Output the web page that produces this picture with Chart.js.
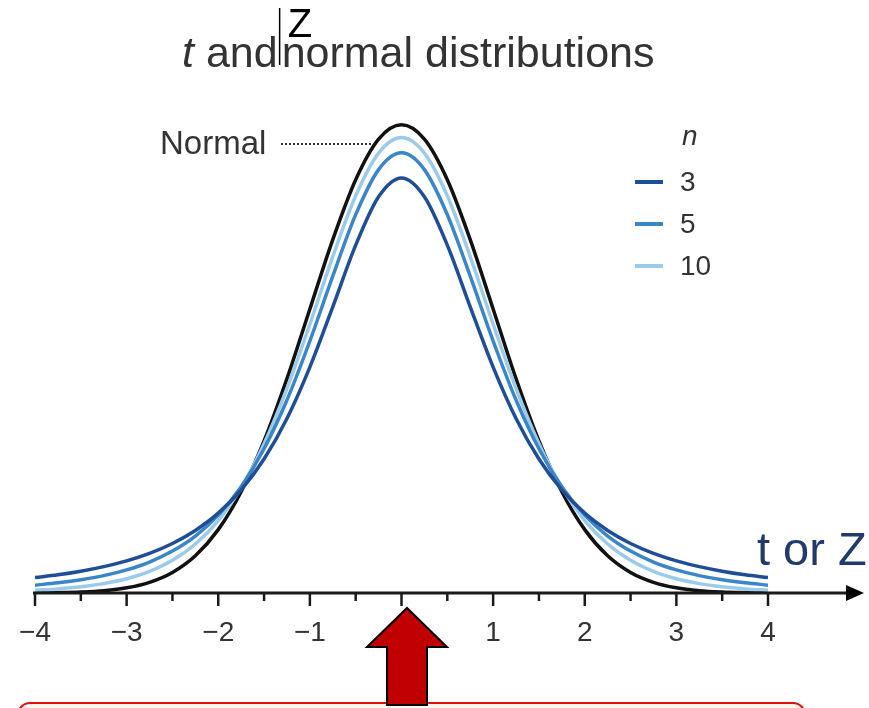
<!DOCTYPE html>
<html>
<head>
<meta charset="utf-8">
<script src="https://cdn.jsdelivr.net/npm/chart.js@4/dist/chart.umd.min.js"></script>
<style>
  html, body { margin: 0; padding: 0; background: #fff; }
  #wrap { width: 869px; height: 708px; overflow: hidden; }
</style>
</head>
<body>
<div id="wrap"><canvas id="distChart" width="869" height="708"></canvas></div>
<script>
// x positions (t or Z)
const xValues = [-4, -3.75, -3.5, -3.25, -3, -2.75, -2.5, -2.25, -2, -1.75, -1.5, -1.25, -1, -0.75, -0.5, -0.25,
  0, 0.25, 0.5, 0.75, 1, 1.25, 1.5, 1.75, 2, 2.25, 2.5, 2.75, 3, 3.25, 3.5, 3.75, 4];

const normalCurve = [0.0001, 0.0004, 0.0009, 0.0020, 0.0044, 0.0091, 0.0175, 0.0317, 0.0540, 0.0863, 0.1295, 0.1826, 0.2420, 0.3011, 0.3521, 0.3867,
  0.3989, 0.3867, 0.3521, 0.3011, 0.2420, 0.1826, 0.1295, 0.0863, 0.0540, 0.0317, 0.0175, 0.0091, 0.0044, 0.0020, 0.0009, 0.0004, 0.0001];

const tN3 = [0.0131, 0.0155, 0.0186, 0.0225, 0.0274, 0.0338, 0.0422, 0.0533, 0.0680, 0.0878, 0.1141, 0.1487, 0.1925, 0.2438, 0.2963, 0.3376,
  0.3536, 0.3376, 0.2963, 0.2438, 0.1925, 0.1487, 0.1141, 0.0878, 0.0680, 0.0533, 0.0422, 0.0338, 0.0274, 0.0225, 0.0186, 0.0155, 0.0131];

const tN5 = [0.0067, 0.0087, 0.0113, 0.0148, 0.0197, 0.0264, 0.0357, 0.0485, 0.0663, 0.0905, 0.1229, 0.1644, 0.2147, 0.2699, 0.3223, 0.3607,
  0.3750, 0.3607, 0.3223, 0.2699, 0.2147, 0.1644, 0.1229, 0.0905, 0.0663, 0.0485, 0.0357, 0.0264, 0.0197, 0.0148, 0.0113, 0.0087, 0.0067];

const tN10 = [0.0023, 0.0035, 0.0053, 0.0080, 0.0121, 0.0184, 0.0278, 0.0417, 0.0617, 0.0897, 0.1271, 0.1743, 0.2291, 0.2866, 0.3384, 0.3748,
  0.3880, 0.3748, 0.3384, 0.2866, 0.2291, 0.1743, 0.1271, 0.0897, 0.0617, 0.0417, 0.0278, 0.0184, 0.0121, 0.0080, 0.0053, 0.0035, 0.0023];

const sampleSizes = ["3", "5", "10"];
const tickLabels = ["\u22124", "\u22123", "\u22122", "\u22121", "0", "1", "2", "3", "4"];

const seriesColors = ["#1f4e96", "#3a86c8", "#9ccbea"];
const FONT = "'Liberation Sans', Arial, Helvetica, sans-serif";

const toPoints = arr => xValues.map((x, i) => ({ x: x, y: arr[i] }));

// everything drawn around the plot (title, legend, arrows, boxes)
const decorations = {
  id: "decorations",
  beforeDraw(chart) {
    const c = chart.ctx;
    c.save();
    c.fillStyle = "#fff";
    c.fillRect(0, 0, chart.width, chart.height);
    c.restore();
  },
  afterDraw(chart) {
    const c = chart.ctx;
    const xs = chart.scales.x;
    const area = chart.chartArea;
    const axisY = area.bottom;
    c.save();

    // axis line with arrow
    c.strokeStyle = "#1a1a1a";
    c.lineWidth = 3;
    c.beginPath();
    c.moveTo(area.left - 2, axisY);
    c.lineTo(852, axisY);
    c.stroke();
    c.fillStyle = "#000";
    c.beginPath();
    c.moveTo(864, axisY);
    c.lineTo(846, axisY - 8);
    c.lineTo(846, axisY + 8);
    c.closePath();
    c.fill();

    // tick marks (major at integers, minor at halves)
    c.strokeStyle = "#1a1a1a";
    c.lineWidth = 2.5;
    xs.ticks.forEach(t => {
      const px = xs.getPixelForValue(t.value);
      const len = Number.isInteger(t.value) ? 13 : 8;
      c.beginPath();
      c.moveTo(px, axisY);
      c.lineTo(px, axisY + len);
      c.stroke();
    });

    // title: t and | Z normal distributions
    c.fillStyle = "#333";
    c.textBaseline = "alphabetic";
    c.textAlign = "left";
    let tx = 182;
    c.font = "italic 43px " + FONT;
    c.fillText("t", tx, 67);
    tx += c.measureText("t").width;
    c.font = "43px " + FONT;
    c.fillText(" and", tx, 67);
    tx += c.measureText(" and").width;
    c.fillText("normal distributions", tx + 4, 67);
    c.strokeStyle = "#000";
    c.lineWidth = 1.5;
    c.beginPath();
    c.moveTo(tx + 2, 8);
    c.lineTo(tx + 2, 65);
    c.stroke();
    c.fillStyle = "#000";
    c.font = "40px " + FONT;
    c.fillText("Z", tx + 10, 37);

    // "Normal" label with dotted leader
    c.fillStyle = "#333";
    c.font = "33px " + FONT;
    c.textBaseline = "middle";
    c.fillText("Normal", 160, 145);
    c.strokeStyle = "#333";
    c.lineWidth = 2;
    c.setLineDash([2, 2]);
    c.beginPath();
    c.moveTo(281, 144);
    c.lineTo(373, 144);
    c.stroke();
    c.setLineDash([]);

    // legend for n
    c.font = "italic 28px " + FONT;
    c.fillText("n", 682, 137);
    c.font = "28px " + FONT;
    const legendY = [182, 224, 266];
    sampleSizes.forEach((s, i) => {
      c.strokeStyle = seriesColors[i];
      c.lineWidth = 4;
      c.beginPath();
      c.moveTo(635, legendY[i]);
      c.lineTo(663, legendY[i]);
      c.stroke();
      c.fillStyle = "#333";
      c.fillText(s, 680, legendY[i] + 1);
    });

    // "t or Z"
    c.fillStyle = "#1f3a6b";
    c.font = "47px " + FONT;
    c.textBaseline = "alphabetic";
    c.fillText("t or Z", 757, 565);

    // bottom box (cut off by the frame)
    c.fillStyle = "#fdf6ec";
    c.strokeStyle = "#e01010";
    c.lineWidth = 2;
    c.beginPath();
    c.roundRect(18, 703, 787, 40, 12);
    c.fill();
    c.stroke();

    // red up arrow under 0
    const ax = 407;
    c.fillStyle = "#c00000";
    c.strokeStyle = "#000";
    c.lineWidth = 2;
    c.beginPath();
    c.moveTo(ax, 608);
    c.lineTo(ax + 40, 647);
    c.lineTo(ax + 20, 647);
    c.lineTo(ax + 20, 705);
    c.lineTo(ax - 20, 705);
    c.lineTo(ax - 20, 647);
    c.lineTo(ax - 40, 647);
    c.closePath();
    c.fill();
    c.stroke();

    c.restore();
  }
};

const lineStyle = (label, data, color) => ({
  label: label,
  data: toPoints(data),
  borderColor: color,
  borderWidth: 3.5,
  pointRadius: 0,
  fill: false,
  cubicInterpolationMode: "monotone"
});

new Chart(document.getElementById("distChart"), {
  type: "line",
  data: {
    datasets: [
      lineStyle("n = 3", tN3, seriesColors[0]),
      lineStyle("n = 5", tN5, seriesColors[1]),
      lineStyle("n = 10", tN10, seriesColors[2]),
      lineStyle("Normal", normalCurve, "#111")
    ]
  },
  options: {
    responsive: false,
    animation: false,
    layout: { padding: { left: 35, right: 101, top: 100, bottom: 55 } },
    plugins: {
      legend: { display: false },
      tooltip: { enabled: false },
      title: { display: false }
    },
    scales: {
      x: {
        type: "linear",
        min: -4,
        max: 4,
        grid: { display: false },
        border: { display: false },
        afterFit: s => { s.height = 60; },
        ticks: {
          stepSize: 0.5,
          autoSkip: false,
          maxRotation: 0,
          padding: 15,
          color: "#333",
          font: { family: FONT, size: 28 },
          callback: v => Number.isInteger(v) ? tickLabels[v + 4] : ""
        }
      },
      y: {
        display: false,
        min: 0,
        max: 0.42
      }
    }
  },
  plugins: [decorations]
});
</script>
</body>
</html>
